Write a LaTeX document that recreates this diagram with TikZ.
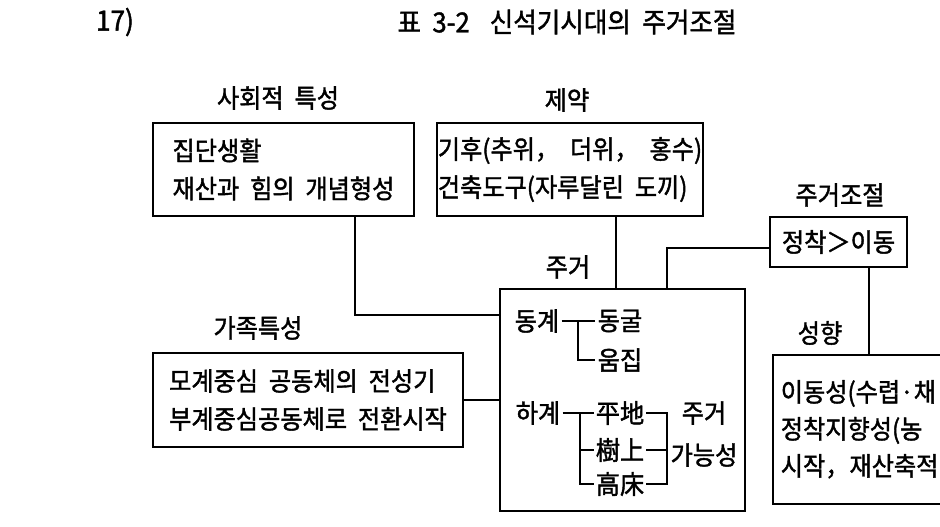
\documentclass[tikz,border=0pt]{standalone}
\usepackage{fontspec}
\setmainfont{Noto Sans CJK KR}[WordSpace=2.0, FakeStretch=0.93, FakeBold=1.5]
\begin{document}
\begin{tikzpicture}[x=1pt, y=-1pt, line width=1.6pt,
  font=\fontsize{26}{38}\selectfont,
  box/.style={rectangle, draw, align=left, inner sep=0pt},
  word/.style={inner sep=1.5pt}]
  \clip (0,0) rectangle (940,527);
  % Header
  \node (num) at (115,22) {\fontsize{28}{30}\selectfont 17)};
  \node (cap) at (567,22) {\fontsize{27.5}{30}\selectfont 표 3-2\hspace{20pt}신석기시대의 주거조절};
  % Boxes
  \node (soc) [box, minimum width=261pt, minimum height=93pt] at (283.5,169.5) {집단생활\\재산과 힘의 개념형성};
  \node (lim) [box, minimum width=266pt, minimum height=93pt] at (570,169.5) {기후(추위， 더위， 홍수)\\건축도구(자루달린 도끼)};
  \node (fam) [box, minimum width=310pt, minimum height=94pt] at (308,400) {모계중심 공동체의 전성기\\부계중심공동체로 전환시작};
  \node (adj) [box, minimum width=137pt, minimum height=50pt] at (838.5,242) {정착＞이동};
  \node (tend) [box, anchor=north west, font=\fontsize{26}{37}\selectfont, minimum height=149pt, text width=212pt, inner xsep=8pt] at (772,354) {이동성(수렵·채\\정착지향성(농\\시작，재산축적};
  \node (house) [box, minimum width=245pt, minimum height=222pt] at (622.5,400) {};
  % Labels
  \node (socl) at (278,98) {사회적 특성};
  \node (liml) at (567,100) {제약};
  \node (housel) at (568,267) {주거};
  \node (adjl) at (840,195) {주거조절};
  \node (tendl) at (820,333) {성향};
  \node (faml) at (258,328) {가족특성};
  % Inside the house box
  \node (win) [word] at (537,321) {동계};
  \node (cave) [word] at (620,321) {동굴};
  \node (pit) [word] at (620,360) {움집};
  \node (sum) [word] at (538,413) {하계};
  \node (flat) [word] at (620,413) {平地};
  \node (tree) [word] at (620,450) {樹上};
  \node (raft) [word] at (620,484) {高床};
  \node (poss) [word, align=center, font=\fontsize{26}{42}\selectfont] at (704,434) {주거\\가능성};
  % Connectors
  \coordinate (ka) at (355,315);
  \coordinate (kb) at (616,0);
  \coordinate (kc) at (667,248);
  \coordinate (kd) at (869,0);
  \coordinate (kx) at (578,0);
  \coordinate (ky) at (580,0);
  \coordinate (kz) at (667,0);
  \draw (soc.south -| ka) |- (house.west |- ka);
  \draw (lim.south -| kb) -- (house.north -| kb);
  \draw (house.north -| kc) |- (adj.west |- kc);
  \draw (adj.south -| kd) -- (tend.north -| kd);
  \draw (fam.east) -- (fam.east -| house.west);
  % Brackets
  \draw (win.east) -- (cave.west);
  \draw (win.east -| kx) |- (pit.west);
  \draw (sum.east) -- (flat.west);
  \draw (sum.east -| ky) |- (tree.west);
  \draw (sum.east -| ky) |- (raft.west);
  \draw (flat.east) -| (kz |- raft.east) -- (raft.east);
  \draw (tree.east) -- (kz |- tree.east);
\end{tikzpicture}
\end{document}
